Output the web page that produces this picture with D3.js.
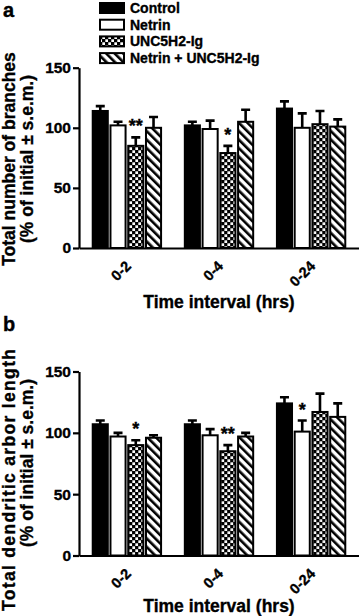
<!DOCTYPE html>
<html>
<head>
<meta charset="utf-8">
<script src="https://cdn.jsdelivr.net/npm/d3@7"></script>
<style>
  body { margin: 0; background: #fff; }
  svg { display: block; font-family: "Liberation Sans", Arial, sans-serif; font-weight: bold; }
  svg text { font-weight: bold; stroke: #000; stroke-width: 0.35px; }
</style>
</head>
<body>
<div id="chart"></div>
<script>
// Time intervals and treatment groups
var intervals = ["0-2", "0-4", "0-24"];
var treatments = ["Control", "Netrin", "UNC5H2-Ig", "Netrin + UNC5H2-Ig"];
var yTicks = [0, 50, 100, 150];

// Panel a: total number of branches (rows = intervals, cols = treatments)
var branchMean = [[114, 102, 85, 100], [102, 99, 79, 105], [116, 100, 103, 101]];
var branchSem  = [[4, 3, 7, 9], [3, 7, 6, 10], [6, 12, 11, 6]];
var branchStars = [["", "", "**", ""], ["", "", "*", ""], ["", "", "", ""]];

// Panel b: total dendritic arbor length
var arborMean = [[107, 97, 90, 96], [107, 98, 85, 97], [124, 101, 117, 113]];
var arborSem  = [[3, 3, 4, 2], [3, 5, 5, 3], [5, 9, 15, 11]];
var arborStars = [["", "", "*", ""], ["", "", "**", ""], ["", "*", "", ""]];

var W = 359, H = 616;

var svg = d3.select("#chart").append("svg")
    .attr("width", W)
    .attr("height", H);

// fill patterns
var defs = svg.append("defs");
var checker = defs.append("pattern")
    .attr("id", "checker")
    .attr("patternUnits", "userSpaceOnUse")
    .attr("width", 6).attr("height", 6);
checker.append("rect").attr("width", 6).attr("height", 6).attr("fill", "#000");
checker.append("rect").attr("x", 0.3).attr("y", 0.3).attr("width", 2.7).attr("height", 2.7).attr("fill", "#fff");
checker.append("rect").attr("x", 3.3).attr("y", 3.3).attr("width", 2.7).attr("height", 2.7).attr("fill", "#fff");

var hatch = defs.append("pattern")
    .attr("id", "hatch")
    .attr("patternUnits", "userSpaceOnUse")
    .attr("width", 6).attr("height", 6)
    .attr("patternTransform", "rotate(-45)");
hatch.append("rect").attr("width", 6).attr("height", 6).attr("fill", "#fff");
hatch.append("rect").attr("x", 0).attr("width", 2.6).attr("height", 6).attr("fill", "#000");

var fills = d3.scaleOrdinal()
    .domain(treatments)
    .range(["#000", "#fff", "url(#checker)", "url(#hatch)"]);

// legend
var legend = svg.append("g");
treatments.forEach(function(t, i) {
    var cy = 8 + i * 16.7;
    legend.append("rect")
        .attr("x", 100).attr("y", cy - 5)
        .attr("width", 24).attr("height", 10)
        .attr("fill", fills(t))
        .attr("stroke", "#000").attr("stroke-width", 2);
    legend.append("text")
        .attr("x", 130).attr("y", cy + 5)
        .style("font-size", "14px")
        .text(t);
});

function drawPanel(opt) {
    var g = svg.append("g");

    var y = d3.scaleLinear().domain([0, 150]).range([opt.y0, opt.y150]);
    var x0 = d3.scaleBand().domain(intervals).range([79, 359])
        .paddingInner(0.2).paddingOuter(0.12);
    var x1 = d3.scaleBand().domain(treatments).range([0, x0.bandwidth()])
        .padding(0.15);

    // y axis
    var yAxis = g.append("g")
        .attr("transform", "translate(79,0)")
        .call(d3.axisLeft(y).tickValues(yTicks).tickSize(6).tickSizeOuter(0))
        .attr("font-family", null).attr("font-size", null);
    yAxis.select(".domain").attr("stroke-width", 2.2);
    yAxis.selectAll(".tick line").attr("stroke-width", 2.2);
    yAxis.selectAll("text")
        .style("font-size", "15.5px")
        .attr("x", -8).attr("fill", "#000");

    // x axis
    var xAxis = g.append("g")
        .attr("transform", "translate(0," + opt.y0 + ")")
        .call(d3.axisBottom(x0).tickSize(0).tickSizeOuter(0))
        .attr("font-family", null).attr("font-size", null);
    xAxis.select(".domain").attr("stroke-width", 2.2);
    xAxis.selectAll("text")
        .style("font-size", "14.5px")
        .attr("fill", "#000")
        .style("text-anchor", "end")
        .attr("dy", null)
        .attr("y", 0)
        .attr("transform", "translate(5,19) rotate(-45)");

    // bars
    var rows = intervals.map(function(iv, i) {
        return treatments.map(function(t, j) {
            return { iv: iv, t: t, m: opt.mean[i][j], e: opt.sem[i][j], s: opt.stars[i][j] };
        });
    });

    var grp = g.selectAll(".grp")
        .data(rows)
        .enter().append("g")
        .attr("transform", function(d) { return "translate(" + x0(d[0].iv) + ",0)"; });

    // error bars (upward only)
    grp.selectAll(".err")
        .data(function(d) { return d; })
        .enter().append("path")
        .attr("d", function(d) {
            var cx = x1(d.t) + x1.bandwidth() / 2;
            return "M" + cx + "," + y(d.m) + "V" + y(d.m + d.e) +
                   "M" + (cx - 4.5) + "," + y(d.m + d.e) + "H" + (cx + 4.5);
        })
        .attr("stroke", "#000")
        .attr("stroke-width", 2.6)
        .attr("fill", "none");

    grp.selectAll(".bar")
        .data(function(d) { return d; })
        .enter().append("rect")
        .attr("x", function(d) { return x1(d.t); })
        .attr("width", x1.bandwidth())
        .attr("y", function(d) { return y(d.m); })
        .attr("height", function(d) { return y(0) - y(d.m); })
        .attr("fill", function(d) { return fills(d.t); })
        .attr("stroke", "#000")
        .attr("stroke-width", 2);

    grp.selectAll(".star")
        .data(function(d) { return d.filter(function(v) { return v.s; }); })
        .enter().append("text")
        .attr("x", function(d) { return x1(d.t) + x1.bandwidth() / 2; })
        .attr("y", function(d) { return y(d.m + d.e) - 5; })
        .attr("text-anchor", "middle")
        .style("font-size", "18px")
        .text(function(d) { return d.s; });

    // axis titles
    g.append("text")
        .attr("x", (79 + 359) / 2)
        .attr("y", opt.xTitleY)
        .attr("text-anchor", "middle")
        .style("font-size", "17.5px")
        .text("Time interval (hrs)");

    var yt = g.append("text")
        .attr("transform", "translate(0," + opt.titleY + ") rotate(-90)")
        .attr("text-anchor", "middle")
        .style("font-size", "17.5px");
    var l1 = yt.append("tspan").attr("x", opt.title1Shift).attr("y", 15).text(opt.title);
    if (opt.titleLen) l1.attr("textLength", opt.titleLen).attr("lengthAdjust", "spacing");
    yt.append("tspan").attr("x", 0).attr("y", 33).text("(% of initial \u00b1 s.e.m.)");

    svg.append("text")
        .attr("x", 3).attr("y", opt.labelY)
        .style("font-size", "20px")
        .text(opt.label);
}

drawPanel({
    label: "a", labelY: 17,
    y0: 248, y150: 67.7, titleY: 159, title1Shift: 0,
    xTitleY: 308,
    title: "Total number of branches",
    mean: branchMean, sem: branchSem, stars: branchStars
});

drawPanel({
    label: "b", labelY: 331,
    y0: 555.5, y150: 371.5, titleY: 463, title1Shift: -17, titleLen: 262,
    xTitleY: 612,
    title: "Total dendritic arbor length",
    mean: arborMean, sem: arborSem, stars: arborStars
});
</script>
</body>
</html>
